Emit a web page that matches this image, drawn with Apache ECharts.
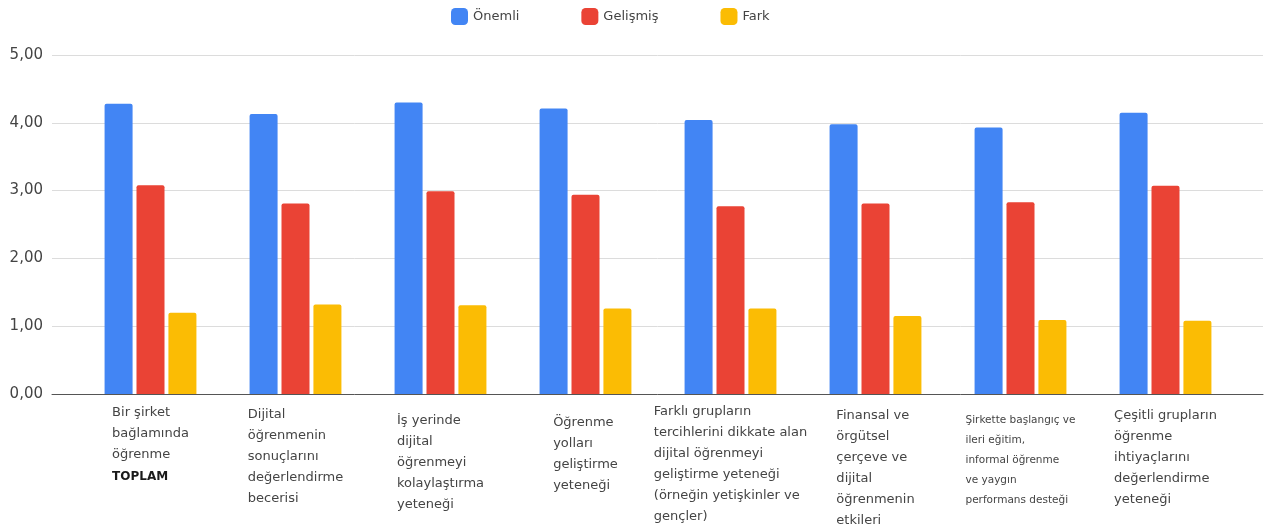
<!DOCTYPE html>
<html lang="tr">
<head>
<meta charset="utf-8">
<title>Önemli / Gelişmiş / Fark</title>
<script src="https://cdn.jsdelivr.net/npm/echarts@6/dist/echarts.min.js"></script>
<style>
  html, body { margin: 0; padding: 0; background: #ffffff; }
  #chart { width: 1266px; height: 527px; }
</style>
</head>
<body>
<div id="chart"></div>
<script>
// Competence areas (line breaks as they are set under the axis)
const categories = [
  'Bir şirket\nbağlamında\nöğrenme\nTOPLAM',
  'Dijital\nöğrenmenin\nsonuçlarını\ndeğerlendirme\nbecerisi',
  'İş yerinde\ndijital\nöğrenmeyi\nkolaylaştırma\nyeteneği',
  'Öğrenme\nyolları\ngeliştirme\nyeteneği',
  'Farklı grupların\ntercihlerini dikkate alan\ndijital öğrenmeyi\ngeliştirme yeteneği\n(örneğin yetişkinler ve\ngençler)',
  'Finansal ve\nörgütsel\nçerçeve ve\ndijital\nöğrenmenin\netkileri',
  'Şirkette başlangıç ve\nileri eğitim,\ninformal öğrenme\nve yaygın\nperformans desteği',
  'Çeşitli grupların\nöğrenme\nihtiyaçlarını\ndeğerlendirme\nyeteneği'
];

const seriesNames = ['Önemli', 'Gelişmiş', 'Fark'];
const onemli   = [4.28, 4.13, 4.30, 4.21, 4.04, 3.98, 3.93, 4.15];
const gelismis = [3.08, 2.81, 2.99, 2.94, 2.77, 2.81, 2.83, 3.07];
const fark     = [1.20, 1.32, 1.31, 1.26, 1.26, 1.15, 1.09, 1.08];

const yTickMin = 0;
const yTickMax = 5;
const yTickStep = 1;

// ---- styling ----
const FONT = 'DejaVu Sans';
const TEXT = '#444444';
const colors = ['#4285F4', '#EA4335', '#FBBC04'];
// extra top padding for each category label block
const labelTopPad = [1, 3, 9, 11, 0, 4, 9, 4];
// the seventh label is set in a smaller type
const smallLabelIndex = 6;

function fmtTick(v) {
  return v.toFixed(2).replace('.', ',');
}

function richLabel(text, idx) {
  return text.split('\n').map(function (line) {
    if (line === 'TOPLAM') return '{b|' + line + '}';
    if (idx === smallLabelIndex) return '{s|' + line + '}';
    return '{n|' + line + '}';
  }).join('\n');
}

const chart = echarts.init(document.getElementById('chart'), null, { renderer: 'canvas' });

const barBase = {
  type: 'bar',
  xAxisIndex: 1,
  yAxisIndex: 1,
  barWidth: 28,
  barGap: '14%',
  itemStyle: { borderRadius: [2, 2, 0, 0] }
};

chart.setOption({
  backgroundColor: '#ffffff',
  animation: false,
  color: colors,
  textStyle: { fontFamily: FONT },
  legend: {
    data: seriesNames,
    top: 3,
    left: 446,
    itemWidth: 17,
    itemHeight: 17,
    itemGap: 62,
    icon: 'roundRect',
    textStyle: { fontFamily: FONT, fontSize: 13, color: TEXT }
  },
  grid: [
    // frame carrying the value scale and its grid lines
    { left: 52, right: 3, top: 55, bottom: 133, containLabel: false, outerBoundsMode: 'none' },
    // frame carrying the bars
    { left: 78, right: 28, top: 55, bottom: 133, containLabel: false, outerBoundsMode: 'none' }
  ],
  xAxis: [
    {
      gridIndex: 0,
      type: 'value',
      min: 0,
      max: 1,
      axisLine: { show: true, onZero: false, lineStyle: { color: '#555555', width: 1 } },
      axisTick: { show: false },
      axisLabel: { show: false },
      splitLine: { show: false }
    },
    {
      gridIndex: 1,
      type: 'category',
      data: categories.map(function (c, i) {
        return { value: c, textStyle: { padding: [labelTopPad[i], 0, 0, 0] } };
      }),
      axisLine: { show: false },
      axisTick: { show: false },
      axisLabel: {
        interval: 0,
        margin: 7,
        verticalAlign: 'top',
        align: 'center',
        color: TEXT,
        fontFamily: FONT,
        fontSize: 13,
        lineHeight: 21,
        formatter: function (value, idx) { return richLabel(value, idx); },
        rich: {
          n: { align: 'left', fontFamily: FONT, fontSize: 13, lineHeight: 21, color: TEXT },
          b: { align: 'left', fontFamily: FONT, fontSize: 12, fontWeight: 'bold', lineHeight: 23, color: '#1a1a1a' },
          s: { align: 'left', fontFamily: FONT, fontSize: 10.5, lineHeight: 20, color: TEXT }
        }
      },
      splitLine: { show: false }
    }
  ],
  yAxis: [
    {
      gridIndex: 0,
      type: 'value',
      min: yTickMin,
      max: yTickMax,
      interval: yTickStep,
      axisLine: { show: false },
      axisTick: { show: false },
      axisLabel: {
        margin: 9,
        color: TEXT,
        fontFamily: FONT,
        fontSize: 15,
        formatter: fmtTick
      },
      splitLine: { show: true, lineStyle: { color: '#dcdcdc', width: 1 } }
    },
    {
      gridIndex: 1,
      type: 'value',
      min: yTickMin,
      max: yTickMax,
      interval: yTickStep,
      show: false,
      splitLine: { show: false }
    }
  ],
  series: [
    Object.assign({}, barBase, { name: seriesNames[0], data: onemli }),
    Object.assign({}, barBase, { name: seriesNames[1], data: gelismis }),
    Object.assign({}, barBase, { name: seriesNames[2], data: fark })
  ]
});
</script>
</body>
</html>
